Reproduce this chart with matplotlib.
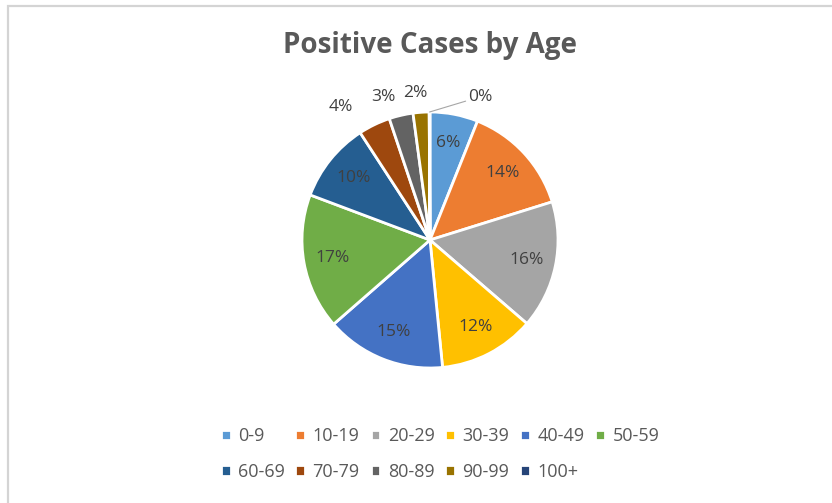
import matplotlib.pyplot as plt
from matplotlib.patches import Rectangle
import numpy as np

ages = ["0-9", "10-19", "20-29", "30-39", "40-49", "50-59",
        "60-69", "70-79", "80-89", "90-99", "100+"]
shares = [6, 14, 16, 12, 15, 17, 10, 4, 3, 2, 0.1]
colors = ["#5B9BD5", "#ED7D31", "#A5A5A5", "#FFC000", "#4472C4", "#70AD47",
          "#255E91", "#9E480E", "#636363", "#997300", "#264478"]

plt.rcParams['font.family'] = ['Open Sans', 'DejaVu Sans']

W, H = 832, 503
fig = plt.figure(figsize=(W / 100, H / 100), dpi=100)

# chart frame like the Excel chart area
fig.patches.append(Rectangle((8 / W, -0.02), 1.0, (H - 6) / H + 0.02,
                             transform=fig.transFigure, fill=False,
                             edgecolor="#d4d4d4", linewidth=1.6))

fig.text(430 / W, 1 - 45 / H, "Positive Cases by Age", ha="center", va="center",
         fontsize=20, fontweight="bold", color="#595959")

cx, cy, r = 430, 240, 128
ax = fig.add_axes([(cx - r) / W, (H - cy - r) / H, 2 * r / W, 2 * r / H])
wedges, _ = ax.pie(shares, colors=colors, startangle=90, counterclock=False,
                   wedgeprops=dict(edgecolor="white", linewidth=2))
ax.set_xlim(-1, 1)
ax.set_ylim(-1, 1)

for w, v in zip(wedges, shares):
    ang = np.deg2rad((w.theta1 + w.theta2) / 2)
    txt = f"{v:.0f}%"
    if v >= 5:
        x, y = 0.77 * np.cos(ang), 0.77 * np.sin(ang)
    elif v >= 1:
        # small slices: labels sit outside, spread sideways
        x, y = 1.6 * np.cos(ang), 1.15 * np.sin(ang)
    else:
        ax.annotate(txt, xy=(np.cos(ang), np.sin(ang)), xytext=(0.3, 1.12),
                    ha="left", va="center", fontsize=12.5, color="#404040",
                    arrowprops=dict(arrowstyle="-", color="#a6a6a6", lw=0.8,
                                    shrinkA=0, shrinkB=0))
        continue
    ax.text(x, y, txt, ha="center", va="center", fontsize=12.5, color="#404040")

order = [0, 6, 1, 7, 2, 8, 3, 9, 4, 10, 5]
fig.legend([wedges[i] for i in order], [ages[i] for i in order], ncol=6,
           loc="center", bbox_to_anchor=(440 / W, 1 - 454 / H), frameon=False,
           fontsize=13, labelcolor="#595959", handlelength=0.55, handleheight=0.55,
           handletextpad=0.4, columnspacing=0.6, labelspacing=0.95)

fig.savefig("out.png", dpi=100)
